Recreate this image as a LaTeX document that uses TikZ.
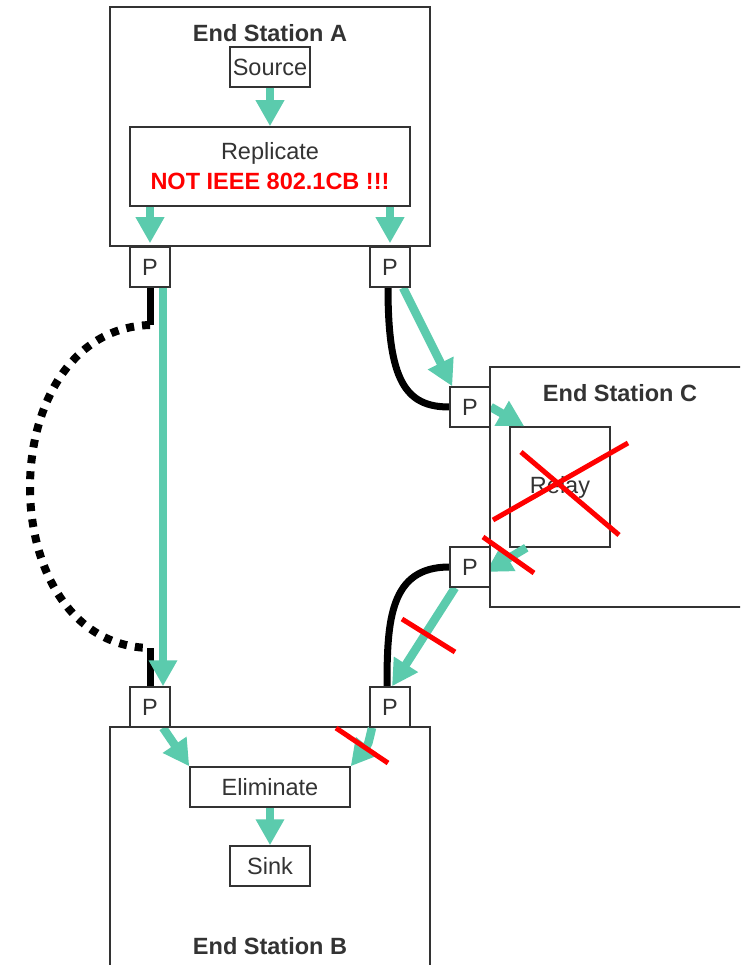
\documentclass[tikz,border=0pt]{standalone}
\usepackage{fontspec}
\setmainfont{Liberation Sans}
\usepackage{xcolor}
\usepackage{tikz}
\usetikzlibrary{arrows.meta}

\definecolor{flowgreen}{RGB}{91,203,173}
\definecolor{boxgray}{RGB}{51,51,51}
\definecolor{crossred}{RGB}{255,0,0}

\tikzset{
  box/.style={draw=boxgray,line width=1.5pt,fill=white,inner sep=0pt,
    text=boxgray,font=\fontsize{23.5}{30}\selectfont},
  port/.style={box,minimum width=40pt,minimum height=40pt},
  title/.style={text=boxgray,inner sep=0pt,font=\fontsize{23.5}{30}\selectfont\bfseries},
  flow/.style={draw=flowgreen,line width=8.5pt,-{Triangle[width=27pt,length=26pt]}},
  cable/.style={draw=black,line width=7pt},
  cross/.style={draw=crossred,line width=5pt}
}

\begin{document}
\begin{tikzpicture}[x=1pt,y=-1pt]
\useasboundingbox (0,0) rectangle (740,965);
\clip (0,0) rectangle (740,965);

    % stations
    \node[box,minimum width=320pt,minimum height=239pt] (stationA) at (270,126.5) {};
    \node[title] (titleA) at (270,33) {End Station A};
    \node[box,minimum width=300pt,minimum height=240pt] (stationC) at (640,487) {};
    \node[title] (titleC) at (620,393) {End Station C};
    \node[box,minimum width=320pt,minimum height=273pt] (stationB) at (270,863.5) {};
    \node[title] (titleB) at (270,946) {End Station B};

    % functions inside the stations
    \node[box,minimum width=80pt,minimum height=40pt] (source) at (270,67) {Source};
    \node[box,minimum width=280pt,minimum height=79pt,align=center] (replicate) at (270,166.5)
        {Replicate\\{\color{crossred}\bfseries NOT IEEE 802.1CB !!!}};
    \node[box,minimum width=100pt,minimum height=120pt] (relay) at (560,487) {Relay};
    \node[box,minimum width=160pt,minimum height=40pt] (eliminate) at (270,787) {Eliminate};
    \node[box,minimum width=80pt,minimum height=40pt] (sink) at (270,866) {Sink};

    % ports
    \coordinate (portAlpos) at (150,267);
    \coordinate (portArpos) at (390,267);
    \coordinate (portCtpos) at (470,407);
    \coordinate (portCbpos) at (470,567);
    \coordinate (portBlpos) at (150,707);
    \coordinate (portBrpos) at (390,707);
    \node[port] (portAl) at (portAlpos) {P};
    \node[port] (portAr) at (portArpos) {P};
    \node[port] (portCt) at (portCtpos) {P};
    \node[port] (portCb) at (portCbpos) {P};
    \node[port] (portBl) at (portBlpos) {P};
    \node[port] (portBr) at (portBrpos) {P};

    % cables
    \coordinate (loopTop) at (150,325);
    \coordinate (loopBot) at (150,648);
    \draw[cable] (portAl.south) -- (loopTop);
    \draw[cable,line width=8pt,dash pattern=on 8pt off 8pt] (loopTop) .. controls (-10,330) and (-10,645) .. (loopBot);
    \draw[cable] (loopBot) -- (portBl.north);
    \draw[cable] ([xshift=-2pt]portAr.south) .. controls (388,380) and (405,407) .. (portCt.west);
    \draw[cable] (portCb.west) .. controls (390,567) and (387,620) .. ([xshift=-3pt]portBr.north);

    % streams
    \draw[flow] (source.south) -- (replicate.north);
    \draw[flow] (replicate.south -| portAl) -- ([yshift=3pt]portAl.north);
    \draw[flow] (replicate.south -| portAr) -- ([yshift=3pt]portAr.north);
    \draw[flow] ([xshift=13pt]portAl.south) -- ([xshift=13pt]portBl.north);
    \draw[flow] ([xshift=13pt]portAr.south) -- ([xshift=3pt]portCt.north west);
    \draw[flow] (portCt.east) -- ([xshift=15pt]relay.north west);
    \draw[flow] ([xshift=17pt]relay.south west) -- ([xshift=-5pt,yshift=-5pt]portCb.east);
    \draw[flow] ([xshift=-15pt]portCb.south) -- ([xshift=2pt]portBr.north);
    \draw[flow] ([xshift=13pt]portBl.south) -- (eliminate.north west);
    \draw[flow] ([xshift=-18pt]portBr.south) .. controls (368,745) .. (eliminate.north east);
    \draw[flow] (eliminate.south) -- (sink.north);

    % ports again on top of the streams
    \foreach \p in {Al,Ar,Ct,Cb,Bl,Br}
        \node[port] at (port\p pos) {P};

    % blocked paths
    \draw[cross] (493,520) -- (628,443);
    \draw[cross] (521,452) -- (619,535);
    \draw[cross] (483,537) -- (534,573);
    \draw[cross] (402,619) -- (455,652);
    \draw[cross] (336,728) -- (388,763);

\end{tikzpicture}
\end{document}
